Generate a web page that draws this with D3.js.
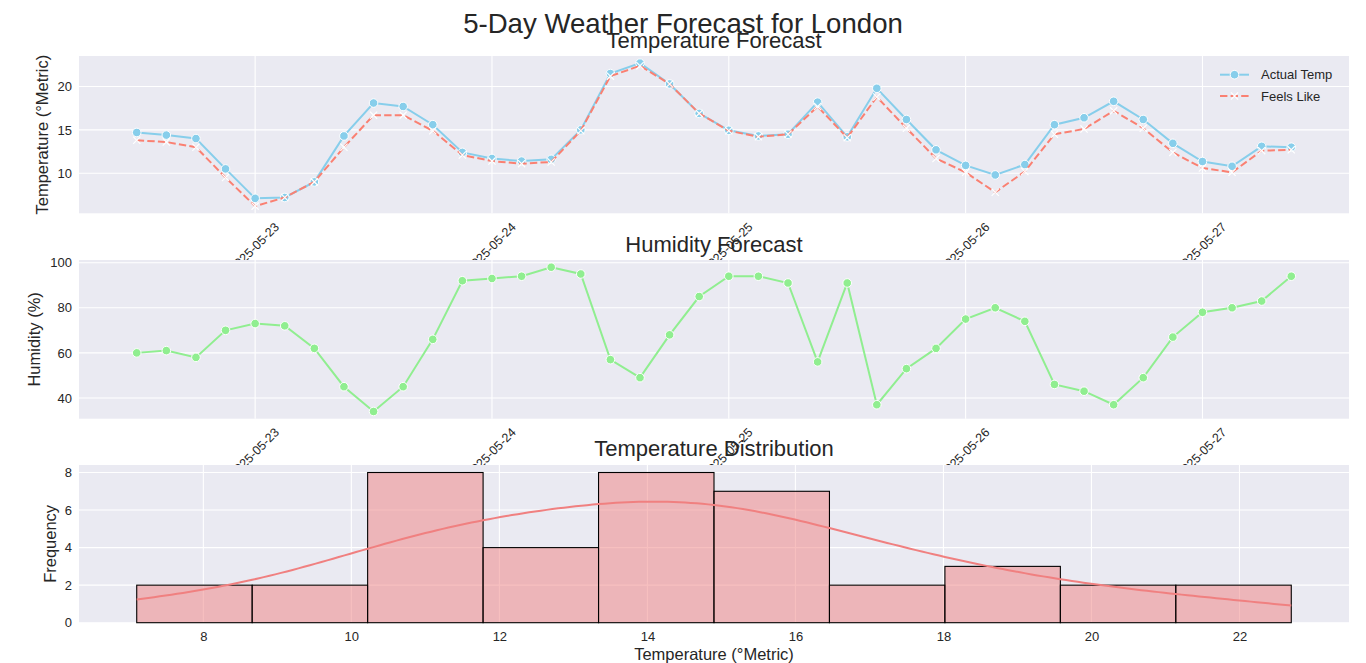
<!DOCTYPE html>
<html>
<head>
<meta charset="utf-8">
<script src="https://cdn.jsdelivr.net/npm/d3@7"></script>
<style>
body { margin: 0; background: #fff; }
svg text { font-family: "Liberation Sans", Arial, sans-serif; fill: #262626; }
</style>
</head>
<body>
<svg id="chart" width="1366" height="663"></svg>
<script>
// forecast timestamps (3-hourly)
var times = [
	"2025-05-22 12:00", "2025-05-22 15:00", "2025-05-22 18:00", "2025-05-22 21:00",
	"2025-05-23 00:00", "2025-05-23 03:00", "2025-05-23 06:00", "2025-05-23 09:00",
	"2025-05-23 12:00", "2025-05-23 15:00", "2025-05-23 18:00", "2025-05-23 21:00",
	"2025-05-24 00:00", "2025-05-24 03:00", "2025-05-24 06:00", "2025-05-24 09:00",
	"2025-05-24 12:00", "2025-05-24 15:00", "2025-05-24 18:00", "2025-05-24 21:00",
	"2025-05-25 00:00", "2025-05-25 03:00", "2025-05-25 06:00", "2025-05-25 09:00",
	"2025-05-25 12:00", "2025-05-25 15:00", "2025-05-25 18:00", "2025-05-25 21:00",
	"2025-05-26 00:00", "2025-05-26 03:00", "2025-05-26 06:00", "2025-05-26 09:00",
	"2025-05-26 12:00", "2025-05-26 15:00", "2025-05-26 18:00", "2025-05-26 21:00",
	"2025-05-27 00:00", "2025-05-27 03:00", "2025-05-27 06:00", "2025-05-27 09:00"
];
var actualTemp = [14.7, 14.4, 14.0, 10.5, 7.1, 7.2, 9.0, 14.3, 18.1, 17.7,
	15.6, 12.4, 11.7, 11.4, 11.6, 15.0, 21.5, 22.7, 20.3, 16.9,
	14.95, 14.3, 14.5, 18.2, 14.2, 19.8, 16.2, 12.7, 10.9, 9.8,
	11.0, 15.6, 16.4, 18.3, 16.2, 13.45, 11.35, 10.8, 13.1, 13.0];
var feelsLike = [13.8, 13.6, 13.0, 9.5, 6.2, 7.2, 9.0, 13.0, 16.7, 16.7,
	14.9, 12.1, 11.4, 11.1, 11.3, 14.9, 21.2, 22.4, 20.3, 16.9,
	14.9, 14.2, 14.5, 17.7, 14.1, 18.8, 15.2, 11.7, 10.1, 7.8,
	10.2, 14.5, 15.1, 17.2, 15.2, 12.4, 10.6, 10.1, 12.6, 12.7];
var humidity = [60, 61, 58, 70, 73, 72, 62, 45, 34, 45,
	66, 92, 93, 94, 98, 95, 57, 49, 68, 85,
	94, 94, 91, 56, 91, 37, 53, 62, 75, 80,
	74, 46, 43, 37, 49, 67, 78, 80, 83, 94];

var dayTicks = ["2025-05-23", "2025-05-24", "2025-05-25", "2025-05-26", "2025-05-27"];
var tempTicks = [10, 15, 20];
var humTicks = [40, 60, 80, 100];
var distTicks = [8, 10, 12, 14, 16, 18, 20, 22];
var freqTicks = [0, 2, 4, 6, 8];
var seriesNames = ["Actual Temp", "Feels Like"];

var svg = d3.select("#chart");
var W = 1270, LEFT = 79;
var panels = {
	temp: { y: 56, h: 157.3 },
	hum: { y: 260, h: 158.7 },
	dist: { y: 465, h: 157.7 }
};
var BG = "#EAEAF2";

var parse = d3.timeParse("%Y-%m-%d %H:%M");
var parseDay = d3.timeParse("%Y-%m-%d");
var dates = times.map(parse);
var days = dayTicks.map(parseDay);

function pad(lo, hi) {
	var m = (hi - lo) * 0.05;
	return [lo - m, hi + m];
}

var tExt = d3.extent(dates);
var tPad = pad(+tExt[0], +tExt[1]);
var x = d3.scaleTime().domain([new Date(tPad[0]), new Date(tPad[1])]).range([0, W]);

function makePanel(p) {
	var g = svg.append("g").attr("transform", "translate(" + LEFT + "," + p.y + ")");
	g.append("rect").attr("width", W).attr("height", p.h).attr("fill", BG);
	return g;
}

function grid(g, xs, ys, xf, yf, h) {
	g.selectAll(null).data(xs).join("line")
		.attr("x1", function(d) { return xf(d); }).attr("x2", function(d) { return xf(d); })
		.attr("y1", 0).attr("y2", h)
		.attr("stroke", "#fff").attr("stroke-width", 1.1);
	g.selectAll(null).data(ys).join("line")
		.attr("x1", 0).attr("x2", W)
		.attr("y1", function(d) { return yf(d); }).attr("y2", function(d) { return yf(d); })
		.attr("stroke", "#fff").attr("stroke-width", 1.1);
}

function yAxis(g, y, ticks) {
	var ax = g.append("g").call(d3.axisLeft(y).tickValues(ticks).tickSize(0).tickPadding(7));
	ax.select(".domain").remove();
	ax.selectAll("text").attr("font-size", 13).style("font-family", "'Liberation Sans', Arial, sans-serif").attr("fill", "#262626");
}

function dateAxis(g, h) {
	var ax = g.append("g").attr("transform", "translate(0," + h + ")")
		.call(d3.axisBottom(x).tickValues(days).tickFormat(d3.timeFormat("%Y-%m-%d")).tickSize(0));
	ax.select(".domain").remove();
	ax.selectAll("text")
		.attr("font-size", 12.5)
		.style("font-family", "'Liberation Sans', Arial, sans-serif")
		.attr("fill", "#262626")
		.attr("x", -1.5)
		.attr("y", 34).attr("dy", "0.35em")
		.attr("text-anchor", "middle")
		.attr("transform", "rotate(-45 -1.5 34)");
}

function title(txt, yy, size) {
	svg.append("text").attr("x", LEFT + W / 2).attr("y", yy)
		.attr("text-anchor", "middle").attr("font-size", size).text(txt);
}

function yLabel(txt, xx, p) {
	svg.append("text")
		.attr("transform", "translate(" + xx + "," + (p.y + p.h / 2) + ") rotate(-90)")
		.attr("text-anchor", "middle").attr("font-size", 16.5).text(txt);
}

function xMark(sel) {
	sel.attr("d", "M-3.6,-3.6L3.6,3.6M-3.6,3.6L3.6,-3.6")
		.attr("stroke", "#fff").attr("stroke-width", 1.2).attr("fill", "none");
}

// ---- temperature forecast
var pT = panels.temp;
var gT = makePanel(pT);
var yT = d3.scaleLinear()
	.domain(pad(d3.min(actualTemp.concat(feelsLike)), d3.max(actualTemp.concat(feelsLike))))
	.range([pT.h, 0]);
grid(gT, days, tempTicks, x, yT, pT.h);

var lineT = function(arr) {
	return d3.line().x(function(d, i) { return x(dates[i]); }).y(function(d) { return yT(d); })(arr);
};
gT.append("path").attr("d", lineT(actualTemp)).attr("fill", "none")
	.attr("stroke", "skyblue").attr("stroke-width", 2);
gT.selectAll(null).data(actualTemp).join("circle")
	.attr("cx", function(d, i) { return x(dates[i]); }).attr("cy", function(d) { return yT(d); })
	.attr("r", 4.3).attr("fill", "skyblue").attr("stroke", "#fff").attr("stroke-width", 1);
gT.append("path").attr("d", lineT(feelsLike)).attr("fill", "none")
	.attr("stroke", "salmon").attr("stroke-width", 2).attr("stroke-dasharray", "7.4,3.2");
gT.selectAll(null).data(feelsLike).join("path")
	.attr("transform", function(d, i) { return "translate(" + x(dates[i]) + "," + yT(d) + ")"; })
	.call(xMark);

yAxis(gT, yT, tempTicks);
dateAxis(gT, pT.h);

// legend
var leg = gT.append("g").attr("transform", "translate(" + (W - 129) + ",18.7)");
seriesNames.forEach(function(name, i) {
	var row = leg.append("g").attr("transform", "translate(0," + (i * 21.3) + ")");
	row.append("line").attr("x1", 0).attr("x2", 29).attr("y1", 0).attr("y2", 0)
		.attr("stroke", i === 0 ? "skyblue" : "salmon").attr("stroke-width", 2)
		.attr("stroke-dasharray", i === 0 ? null : "7.4,3.2");
	if (i === 0) {
		row.append("circle").attr("cx", 14.5).attr("r", 4.3).attr("fill", "skyblue")
			.attr("stroke", "#fff").attr("stroke-width", 1);
	} else {
		row.append("path").attr("transform", "translate(14.5,0)").call(xMark);
	}
	row.append("text").attr("x", 41).attr("y", 4.6).attr("font-size", 13).text(name);
});

// ---- humidity forecast
var pH = panels.hum;
var gH = makePanel(pH);
var yH = d3.scaleLinear().domain(pad(d3.min(humidity), d3.max(humidity))).range([pH.h, 0]);
grid(gH, days, humTicks, x, yH, pH.h);
gH.append("path")
	.attr("d", d3.line().x(function(d, i) { return x(dates[i]); }).y(function(d) { return yH(d); })(humidity))
	.attr("fill", "none").attr("stroke", "lightgreen").attr("stroke-width", 2);
gH.selectAll(null).data(humidity).join("circle")
	.attr("cx", function(d, i) { return x(dates[i]); }).attr("cy", function(d) { return yH(d); })
	.attr("r", 4.3).attr("fill", "lightgreen").attr("stroke", "#fff").attr("stroke-width", 1);
yAxis(gH, yH, humTicks);
dateAxis(gH, pH.h);

// ---- temperature distribution
var pD = panels.dist;
var gD = makePanel(pD);
var lo = d3.min(actualTemp), hi = d3.max(actualTemp);
var bw = (hi - lo) / 10;
var bins = d3.bin().domain([lo, hi])
	.thresholds(d3.range(1, 10).map(function(k) { return lo + k * bw; }))(actualTemp);
var xD = d3.scaleLinear().domain(pad(lo, hi)).range([0, W]);
var yD = d3.scaleLinear().domain([0, d3.max(bins, function(b) { return b.length; }) * 1.05]).range([pD.h, 0]);
grid(gD, distTicks, freqTicks, xD, yD, pD.h);

gD.selectAll(null).data(bins).join("rect")
	.attr("x", function(b) { return xD(b.x0); })
	.attr("width", function(b) { return xD(b.x1) - xD(b.x0); })
	.attr("y", function(b) { return yD(b.length); })
	.attr("height", function(b) { return pD.h - yD(b.length); })
	.attr("fill", "lightcoral").attr("fill-opacity", 0.5)
	.attr("stroke", "#000").attr("stroke-width", 1.1);

// gaussian kde, scott bandwidth, scaled to counts
var n = actualTemp.length;
var bwK = d3.deviation(actualTemp) * Math.pow(n, -0.2);
var kx = d3.range(0, 201).map(function(i) { return lo + (hi - lo) * i / 200; });
var kde = kx.map(function(v) {
	var s = d3.sum(actualTemp, function(t) {
		var z = (v - t) / bwK;
		return Math.exp(-0.5 * z * z);
	});
	return [v, s / (n * bwK * Math.sqrt(2 * Math.PI)) * n * bw];
});
gD.append("path")
	.attr("d", d3.line().x(function(d) { return xD(d[0]); }).y(function(d) { return yD(d[1]); })(kde))
	.attr("fill", "none").attr("stroke", "lightcoral").attr("stroke-width", 2);

yAxis(gD, yD, freqTicks);
var axD = gD.append("g").attr("transform", "translate(0," + pD.h + ")")
	.call(d3.axisBottom(xD).tickValues(distTicks).tickSize(0).tickPadding(9));
axD.select(".domain").remove();
axD.selectAll("text").attr("font-size", 13).style("font-family", "'Liberation Sans', Arial, sans-serif").attr("fill", "#262626");

// ---- titles and labels
title("Temperature Forecast", 48, 22);
title("Humidity Forecast", 252, 22);
title("Temperature Distribution", 456, 22);
svg.append("text").attr("x", 683).attr("y", 33).attr("text-anchor", "middle")
	.attr("font-size", 27.6).text("5-Day Weather Forecast for London");

yLabel("Temperature (°Metric)", 48, pT);
yLabel("Humidity (%)", 40, pH);
yLabel("Frequency", 56, pD);
svg.append("text").attr("x", LEFT + W / 2).attr("y", 660).attr("text-anchor", "middle")
	.attr("font-size", 16.5).text("Temperature (°Metric)");
</script>
</body>
</html>
